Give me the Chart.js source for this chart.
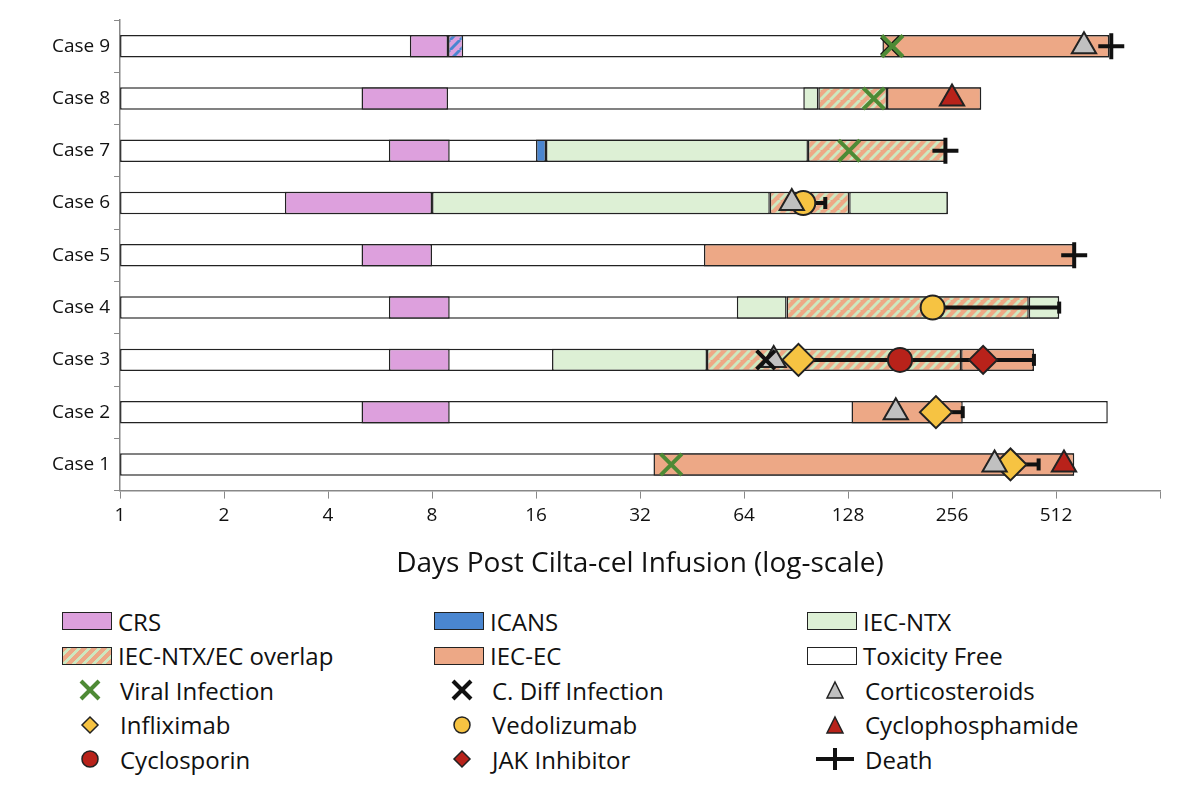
<!DOCTYPE html>
<html><head><meta charset="utf-8">
<script src="https://cdn.jsdelivr.net/npm/chart.js@4/dist/chart.umd.min.js"></script>
<style>
body{margin:0;background:#fff;font-family:"Open Sans",Arial,sans-serif;}
#wrap{position:absolute;left:0;top:0;width:1200px;height:585px;}
#legend{position:absolute;left:62px;top:604px;width:1130px;font-size:24px;color:#111;}
.row{height:34.5px;display:flex;align-items:center;}
.it{display:flex;align-items:center;}
.it:nth-child(1){width:372px}.it:nth-child(2){width:373px}
.sw{width:50px;height:18px;border:1.5px solid #222;margin-right:6px;box-sizing:border-box}
.mk{width:40px;height:30px;margin-right:10px;margin-left:8px}
</style></head><body>
<div id="wrap"><canvas id="c" width="1200" height="585"></canvas></div>
<div id="legend"></div>
<script>
const cases=['Case 9','Case 8','Case 7','Case 6','Case 5','Case 4','Case 3','Case 2','Case 1'];
const tickVals=[1,2,4,8,16,32,64,128,256,512,1024];
const freeEnd=[730,311,245,249,578,523,442,723,578];
const crs=[[6.9,8.9],[5,8.9],[6,9],[3,8],[5,8],[6,9],[6,9],[5,9],null];
const icans=[[8.9,9.85],null,[16,17.1],null,null,null,null,null,null];
const ntx=[null,[95,105],[17.1,98],[8,76],null,[61,85],[17.8,50],null,null];
const ntx2=[null,null,null,[129,249],null,[427,523],null,null,null];
const overlap=[null,[105,166],[98,245],[76,129],null,[85,427],[50,272],null,null];
const ec=[[161,730],[166,311],null,null,[49,578],null,[272,442],[131,275],[35,578]];
const viral=[['Case 9',172],['Case 8',152],['Case 7',129],['Case 1',39.4]];
const cdiff=[['Case 9',170],['Case 3',74]];
const cortico=[['Case 9',617],['Case 6',88],['Case 3',78],['Case 2',176],['Case 1',340]];
const inflix=[['Case 3',92],['Case 2',230],['Case 1',378]];
const vedo=[['Case 6',95],['Case 4',225]];
const cyclophos=[['Case 8',256],['Case 1',540]];
const cyclosporin=[['Case 3',181]];
const jak=[['Case 3',315]];
const death=[['Case 9',740],['Case 7',245],['Case 5',578]];
const errBars=[['Case 6',95,110],['Case 4',225,523],['Case 3',92,442],['Case 2',230,275],['Case 1',378,456]];

const C={crs:'#DDA0DD',icans:'#4A86D0',ntx:'#DDF0D5',ec:'#EDA886',green:'#4E8A35',yellow:'#F6C342',red:'#B8221A',gray:'#C0C0C0'};
function stripes(a,b){const p=document.createElement('canvas');p.width=p.height=10;const g=p.getContext('2d');
 g.fillStyle=a;g.fillRect(0,0,10,10);g.strokeStyle=b;g.lineWidth=3;
 for(let k=-10;k<=20;k+=10){g.beginPath();g.moveTo(k,10);g.lineTo(k+10,0);g.stroke();}
 return document.getElementById('c').getContext('2d').createPattern(p,'repeat');}
const hatch=stripes('#EDA886','#CDE8C0');
const hatchB=stripes('#DDA0DD','#4A86D0');

function bar(label,arr,color,ord){return{type:'bar',label,data:arr,backgroundColor:color,borderColor:'#222',borderWidth:1.5,borderSkipped:false,barPercentage:0.43,categoryPercentage:1,grouped:false,order:ord};}
function pts(label,arr,style,bg,bc,r,bw){return{type:'scatter',label,data:arr.map(d=>({x:d[1],y:d[0]})),pointStyle:style,backgroundColor:bg,borderColor:bc,pointRadius:r,borderWidth:bw,pointBorderWidth:bw,order:1};}

const errLines={id:'errl',beforeDatasetDraw(ch,args){
 if(args.index!==15)return;
 const x=ch.scales.x,y=ch.scales.y,g=ch.ctx;g.save();g.strokeStyle='#111';g.lineWidth=4;
 errBars.forEach(e=>{const yy=y.getPixelForValue(cases.indexOf(e[0]));const x1=x.getPixelForValue(e[1]),x2=x.getPixelForValue(e[2]);
  g.beginPath();g.moveTo(x1,yy);g.lineTo(x2,yy);g.stroke();g.beginPath();g.moveTo(x2,yy-6);g.lineTo(x2,yy+6);g.stroke();});
 g.restore();}};

new Chart(document.getElementById('c'),{
 data:{labels:cases,datasets:[
  bar('Toxicity Free',freeEnd.map(v=>[1,v]),'#fff',20),
  bar('CRS',crs,C.crs,12),
  bar('ICANS',icans,(c)=>c.dataIndex===0?hatchB:C.icans,12),
  bar('IEC-NTX',ntx,C.ntx,12),
  bar('IEC-NTX2',ntx2,C.ntx,12),
  bar('IEC-NTX/EC overlap',overlap,hatch,12),
  bar('IEC-EC',ec,C.ec,12),
  pts('Viral Infection',viral,'crossRot',C.green,C.green,15,4),
  pts('C. Diff Infection',cdiff,'crossRot','#111','#111',13,4),
  pts('Corticosteroids',cortico,'triangle',C.gray,'#222',14,2),
  pts('Infliximab',inflix,'rectRot',C.yellow,'#222',16,2),
  pts('Vedolizumab',vedo,'circle',C.yellow,'#222',12,2),
  pts('Cyclophosphamide',cyclophos,'triangle',C.red,'#222',14,2),
  pts('Cyclosporin',cyclosporin,'circle',C.red,'#222',12,2),
  pts('JAK Inhibitor',jak,'rectRot',C.red,'#222',14,2),
  pts('Death',death,'cross','#111','#111',13,4)
 ]},
 options:{indexAxis:'y',responsive:false,animation:false,
  layout:{padding:{left:48,right:40,top:20,bottom:0}},
  plugins:{legend:{display:false},tooltip:{enabled:false}},
  scales:{
   x:{type:'logarithmic',min:1,max:1024,
    afterBuildTicks:(s)=>{s.ticks=tickVals.map(v=>({value:v}));},
    ticks:{callback:(v)=>v===1024?'':String(v),color:'#111',font:{size:19,family:'Open Sans'},autoSkip:false,maxRotation:0,padding:6},
    grid:{drawOnChartArea:false,tickLength:8,color:'#888'},border:{color:'#888',width:1.5},
    title:{display:true,text:'Days Post Cilta-cel Infusion (log-scale)',color:'#111',font:{size:28,family:'Open Sans'},padding:{top:14}}},
   y:{type:'category',offset:true,
    ticks:{color:'#111',font:{size:19,family:'Open Sans'},padding:4},
    grid:{drawOnChartArea:false,offset:true,tickLength:6,color:'#888'},border:{color:'#888',width:1.5}}
  }},
 plugins:[errLines]
});

const legendRows=[
 [['sw',C.crs,'CRS'],['sw',C.icans,'ICANS'],['sw',C.ntx,'IEC-NTX']],
 [['sw','hatch','IEC-NTX/EC overlap'],['sw',C.ec,'IEC-EC'],['sw','#fff','Toxicity Free']],
 [['m','viral','Viral Infection'],['m','cdiff','C. Diff Infection'],['m','cort','Corticosteroids']],
 [['m','inf','Infliximab'],['m','ved','Vedolizumab'],['m','cyp','Cyclophosphamide']],
 [['m','cys','Cyclosporin'],['m','jak','JAK Inhibitor'],['m','death','Death']]];
const svgs={
 viral:'<line x1="10" y1="6" x2="28" y2="24" stroke="#4E8A35" stroke-width="4"/><line x1="28" y1="6" x2="10" y2="24" stroke="#4E8A35" stroke-width="4"/>',
 cdiff:'<line x1="10" y1="6" x2="28" y2="24" stroke="#111" stroke-width="4"/><line x1="28" y1="6" x2="10" y2="24" stroke="#111" stroke-width="4"/>',
 cort:'<polygon points="19,7 27,23 11,23" fill="#C0C0C0" stroke="#222" stroke-width="1.5"/>',
 inf:'<polygon points="19,7 27,15 19,23 11,15" fill="#F6C342" stroke="#222" stroke-width="1.5"/>',
 ved:'<circle cx="19" cy="15" r="8" fill="#F6C342" stroke="#222" stroke-width="1.5"/>',
 cyp:'<polygon points="19,7 27,23 11,23" fill="#B8221A" stroke="#222" stroke-width="1.5"/>',
 cys:'<circle cx="19" cy="15" r="8" fill="#B8221A" stroke="#222" stroke-width="1.5"/>',
 jak:'<polygon points="19,7 27,15 19,23 11,15" fill="#B8221A" stroke="#222" stroke-width="1.5"/>',
 death:'<line x1="0" y1="15" x2="38" y2="15" stroke="#111" stroke-width="4"/><line x1="19" y1="4" x2="19" y2="26" stroke="#111" stroke-width="4"/>'};
let h='';
legendRows.forEach(r=>{h+='<div class="row">';r.forEach(it=>{
 if(it[0]==='sw'){const bg=it[1]==='hatch'?'background:repeating-linear-gradient(-45deg,#EDA886 0 4px,#CDE8C0 4px 7px)':'background:'+it[1];
  h+='<div class="it"><div class="sw" style="'+bg+'"></div>'+it[2]+'</div>';}
 else h+='<div class="it"><svg class="mk" viewBox="0 0 38 30">'+svgs[it[1]]+'</svg>'+it[2]+'</div>';});h+='</div>';});
document.getElementById('legend').innerHTML=h;
</script></body></html>
